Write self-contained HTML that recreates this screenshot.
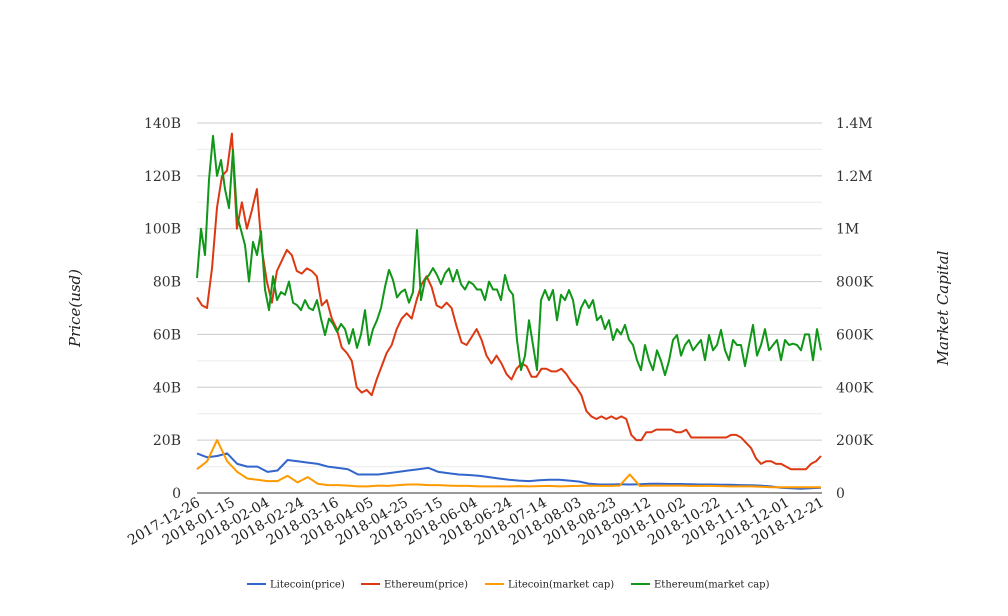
<!DOCTYPE html>
<html><head><meta charset="utf-8"><style>
body{margin:0;background:#fff;}
svg{display:block;font-family:"DejaVu Serif","Liberation Serif",serif;}
</style></head><body>
<svg id="chart" width="1008" height="616" viewBox="0 0 1008 616" xmlns="http://www.w3.org/2000/svg">
<g id="grid"></g>
<g id="series"></g>
<g id="axes"></g>
<text transform="translate(80,308) rotate(-90)" text-anchor="middle" font-size="15" font-style="italic" fill="#222">Price(usd)</text>
<text transform="translate(948,308) rotate(-90)" text-anchor="middle" font-size="15" font-style="italic" fill="#222">Market Capital</text>
<g id="legend"></g>
</svg>
<script>
const leftTicks=["0","20B","40B","60B","80B","100B","120B","140B"];
const rightTicks=["0","200K","400K","600K","800K","1M","1.2M","1.4M"];
const dateLabels=["2017-12-26","2018-01-15","2018-02-04","2018-02-24","2018-03-16","2018-04-05","2018-04-25","2018-05-15","2018-06-04","2018-06-24","2018-07-14","2018-08-03","2018-08-23","2018-09-12","2018-10-02","2018-10-22","2018-11-11","2018-12-01","2018-12-21"];
const ethPrice=[74,71,70,85,108,120,122,136,100,110,100,107,115,92,80,72,84,88,92,90,84,83,85,84,82,71,73,66,62,55,53,50,40,38,39,37,43,48,53,56,62,66,68,66,73,79,82,78,71,70,72,70,63,57,56,59,62,58,52,49,52,49,45,43,47,49,48,44,44,47,47,46,46,47,45,42,40,37,31,29,28,29,28,29,28,29,28,22,20,20,23,23,24,24,24,24,23,23,24,21,21,21,21,21,21,21,21,22,22,21,19,17,13,11,12,12,11,11,10,9,9,9,9,11,12,14];
const ethCap=[814,1000,900,1185,1351,1200,1260,1150,1078,1298,1050,995,938,800,950,900,990,770,692,820,730,760,750,800,720,711,692,730,700,692,730,660,598,660,640,610,640,620,565,620,549,600,692,560,620,654,700,780,844,806,740,760,770,720,760,995,730,806,825,851,825,790,830,850,800,844,790,770,800,790,770,770,730,800,770,770,730,825,770,750,579,465,520,654,560,465,730,768,730,768,654,750,730,768,730,636,700,730,700,730,654,670,620,654,579,620,600,636,580,560,503,465,560,503,465,540,500,446,500,579,598,520,560,579,540,560,579,503,598,540,560,617,540,503,579,560,560,480,560,636,520,560,620,540,560,579,503,579,560,565,560,540,600,600,503,620,540];
const ltcPrice=[15,13.5,14,15,11,10,10,8,8.5,12.5,12,11.5,11,10,9.5,9,7,7,7,7.5,8,8.5,9,9.5,8,7.5,7,6.8,6.5,6,5.5,5,4.7,4.5,4.8,5,5,4.7,4.3,3.5,3.2,3.2,3.3,3.2,3.3,3.5,3.5,3.4,3.4,3.3,3.2,3.2,3.1,3.1,3,2.9,2.8,2.5,2,1.8,1.6,1.8,2];
const ltcCap=[90,120,200,120,80,55,50,45,45,65,40,60,35,30,30,28,25,25,28,27,30,32,32,30,30,28,27,27,25,25,25,25,26,25,26,27,25,26,27,28,27,27,28,70,27,28,28,28,28,27,27,27,26,25,25,25,24,22,22,22,22,22,22];

const NS="http://www.w3.org/2000/svg";
const X0=197,X1=821,Y0=493,Y1=123;
function yB(v){return Y0-(v/140)*(Y0-Y1);}
function yK(v){return Y0-(v/1400)*(Y0-Y1);}
function xIdx(i,n){return X0+i*(X1-X0)/(n-1);}
function mk(tag,attrs,parent){const e=document.createElementNS(NS,tag);for(const k in attrs)e.setAttribute(k,attrs[k]);parent.appendChild(e);return e;}
const grid=document.getElementById('grid'),axes=document.getElementById('axes'),series=document.getElementById('series'),legend=document.getElementById('legend');
for(let v=10;v<=140;v+=10){
  const l=mk('line',{x1:X0,x2:822,y1:yB(v),y2:yB(v),stroke:v%20?'#ececec':'#cccccc','stroke-width':1},grid);
  
  
}
leftTicks.forEach((t,i)=>{
  const e=mk('text',{x:181,y:yB(i*20)+5,'text-anchor':'end','font-size':14,fill:'#333'},axes);e.textContent=t;
  
  
});
rightTicks.forEach((t,i)=>{
  const e=mk('text',{x:836,y:yB(i*20)+5,'text-anchor':'start','font-size':14,fill:'#333'},axes);e.textContent=t;
  
  
});
const base=mk('line',{x1:X0,x2:822,y1:Y0,y2:Y0,stroke:'#333','stroke-width':1},axes);


dateLabels.forEach((t,i)=>{
  const x=xIdx(i,dateLabels.length);
  const e=mk('text',{transform:`translate(${x+4},${Y0+12}) rotate(-30)`,'text-anchor':'end','font-size':14,fill:'#222'},axes);e.textContent=t;
  
  
});
function draw(vals,fy,color,name){
  const d=vals.map((v,i)=>(i?'L':'M')+xIdx(i,vals.length).toFixed(1)+','+fy(v).toFixed(1)).join('');
  const p=mk('path',{d:d,fill:'none',stroke:color,'stroke-width':2,'stroke-linejoin':'round'},series);
  
  
}
draw(ltcPrice,yB,'#3366cc','litecoin-price-line');
draw(ethPrice,yB,'#dc3912','ethereum-price-line');
draw(ltcCap,yK,'#ff9900','litecoin-market-cap-line');
draw(ethCap,yK,'#109618','ethereum-market-cap-line');
const leg=[["Litecoin(price)","#3366cc",247],["Ethereum(price)","#dc3912",361],["Litecoin(market cap)","#ff9900",485],["Ethereum(market cap)","#109618",631]];
leg.forEach(([t,c,x])=>{
  const g=mk('g',{},legend);
  
  
  mk('line',{x1:x,x2:x+19,y1:584,y2:584,stroke:c,'stroke-width':2},g);
  const e=mk('text',{x:x+23,y:587.5,'font-size':10,fill:'#222'},g);e.textContent=t;
});
</script>
</body></html>
